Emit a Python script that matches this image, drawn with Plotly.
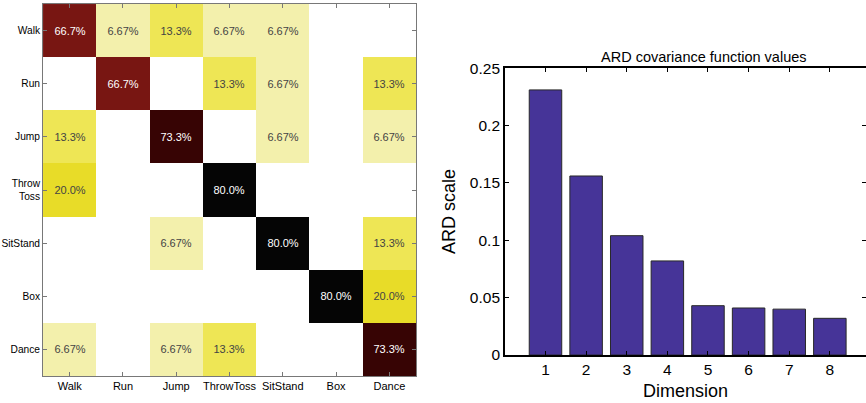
import plotly.graph_objects as go

# Confusion matrix data
pred_labels = ["Walk", "Run", "Jump", "ThrowToss", "SitStand", "Box", "Dance"]
true_labels = ["Walk", "Run", "Jump", "Throw<br>Toss", "SitStand", "Box", "Dance"]
row_walk = [66.7, 6.67, 13.3, 6.67, 6.67, 0, 0]
row_run = [0, 66.7, 0, 13.3, 6.67, 0, 13.3]
row_jump = [13.3, 0, 73.3, 0, 6.67, 0, 6.67]
row_throw = [20.0, 0, 0, 80.0, 0, 0, 0]
row_sit = [0, 0, 6.67, 0, 80.0, 0, 13.3]
row_box = [0, 0, 0, 0, 0, 80.0, 20.0]
row_dance = [6.67, 0, 6.67, 13.3, 0, 0, 73.3]
matrix = [row_walk, row_run, row_jump, row_throw, row_sit, row_box, row_dance]

# ARD bar data
dimensions = [1, 2, 3, 4, 5, 6, 7, 8]
ard_values = [0.231, 0.156, 0.104, 0.082, 0.043, 0.041, 0.040, 0.032]
ard_ticks = [0, 0.05, 0.1, 0.15, 0.2, 0.25]
ard_ticklabels = ["0", "0.05", "0.1", "0.15", "0.2", "0.25"]


def fmt(v):
    if v == 0:
        return ""
    if v < 10:
        return f"{v:.2f}%"
    return f"{v:.1f}%"


text = [[fmt(v) for v in row] for row in matrix]

colorscale = [
    [0.0, "rgb(255,255,255)"],
    [0.0834, "rgb(243,240,172)"],
    [0.166, "rgb(238,230,85)"],
    [0.25, "rgb(232,220,40)"],
    [0.834, "rgb(120,22,18)"],
    [0.916, "rgb(55,4,4)"],
    [1.0, "rgb(5,5,5)"],
]

fig = go.Figure()

fig.add_trace(go.Heatmap(
    z=matrix, x=pred_labels, y=true_labels,
    text=text, texttemplate="%{text}",
    textfont=dict(size=11, family="Liberation Sans"),
    colorscale=colorscale, zmin=0, zmax=80,
    showscale=False, xaxis="x", yaxis="y", hoverinfo="skip",
))

fig.add_trace(go.Bar(
    x=dimensions, y=ard_values, width=0.8,
    marker=dict(color="rgb(70,52,152)", line=dict(color="rgb(40,40,40)", width=1)),
    xaxis="x2", yaxis="y2", showlegend=False,
))

axis_common = dict(showgrid=False, zeroline=False, showline=True, linecolor="rgb(120,120,120)",
                   linewidth=1, mirror="ticks", ticks="inside", ticklen=4, tickcolor="rgb(120,120,120)",
                   automargin=False)

bar_axis = dict(showgrid=False, zeroline=False, showline=True, linecolor="black", linewidth=1.5,
                mirror="ticks", ticks="inside", ticklen=4, tickcolor="black", automargin=False,
                tickfont=dict(size=15.5))

fig.update_layout(
    width=866, height=403,
    margin=dict(l=0, r=0, t=0, b=0),
    paper_bgcolor="white", plot_bgcolor="white",
    font=dict(family="Liberation Sans", color="black"),
    xaxis=dict(domain=[0.0497, 0.4804], **axis_common,
               tickfont=dict(size=11), type="category"),
    yaxis=dict(domain=[0.067, 0.99], **axis_common, autorange="reversed",
               tickfont=dict(size=10.2), type="category"),
    xaxis2=dict(domain=[0.583, 1.0], anchor="y2", range=[0, 8.89],
                tickvals=dimensions, **bar_axis,
                title=dict(text="Dimension", font=dict(size=18), standoff=7)),
    yaxis2=dict(domain=[0.119, 0.831], anchor="x2", range=[0, 0.25],
                tickvals=ard_ticks, ticktext=ard_ticklabels, **bar_axis,
                title=dict(text="ARD scale", font=dict(size=18), standoff=10)),
    bargap=0.2,
    annotations=[dict(text="ARD covariance function values", x=0.8124, y=0.831,
                      xref="paper", yref="paper", xanchor="center", yanchor="bottom",
                      yshift=1, showarrow=False, font=dict(size=14.5))],
)

fig.write_html("out.html", config={"displayModeBar": False},
               post_script="document.body.style.margin='0';")
